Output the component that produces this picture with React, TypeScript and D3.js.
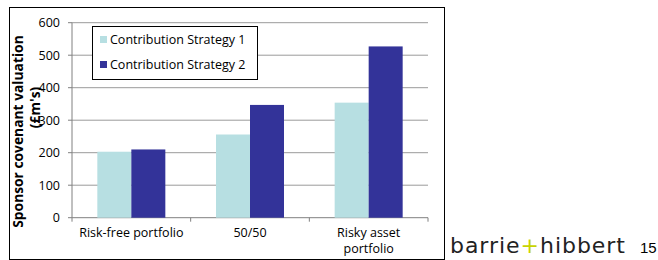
import React from "react";
import * as d3 from "d3";

const categories: string[][] = [["Risk-free portfolio"], ["50/50"], ["Risky asset", "portfolio"]];
const seriesNames = ["Contribution Strategy 1", "Contribution Strategy 2"];
const strategy1 = [203, 256, 354];
const strategy2 = [210, 347, 527];
const yTicks = [0, 100, 200, 300, 400, 500, 600];
const colors = ["#B7DFE2", "#333399"];

export default function App() {
  const W = 658, H = 260;
  const left = 72, right = 428, top = 22.7, bottom = 217.7;
  const x = d3.scaleBand<number>().domain([0, 1, 2]).range([left, right]).paddingInner(0).paddingOuter(0);
  const y = d3.scaleLinear().domain([0, 600]).range([bottom, top]);
  const bw = 34;
  const font = "'Open Sans', sans-serif";
  const series = [strategy1, strategy2];
  return (
    <svg width={W} height={H} style={{ position: "absolute", left: 0, top: 0 }} fontFamily={font}>
      <rect x={0} y={0} width={W} height={H} fill="#fff" />
      <rect x={9.5} y={7.5} width={435} height={252} fill="#fff" stroke="#000" strokeWidth={1} />
      {yTicks.map((t) => (
        <g key={t}>
          {t > 0 && <line x1={left} x2={right} y1={y(t)} y2={y(t)} stroke="#9a9a9a" strokeWidth={1} />}
          <line x1={left - 4} x2={left} y1={y(t)} y2={y(t)} stroke="#808080" />
          <text x={left - 12} y={y(t)} dy="0.35em" textAnchor="end" fontSize={12.5} fill="#000">{t}</text>
        </g>
      ))}
      <line x1={left} x2={left} y1={top} y2={bottom} stroke="#808080" />
      <line x1={left} x2={right} y1={bottom} y2={bottom} stroke="#808080" />
      {[0, 1, 2, 3].map((i) => {
        const xx = left + (i * (right - left)) / 3;
        return <line key={i} x1={xx} x2={xx} y1={bottom} y2={bottom + 4} stroke="#808080" />;
      })}
      {categories.map((c, i) => {
        const cx = (x(i) as number) + x.bandwidth() / 2;
        return (
          <g key={i}>
            {series.map((s, j) => (
              <rect key={j} x={cx - bw + j * bw} y={y(s[i])} width={bw} height={bottom - y(s[i])} fill={colors[j]} />
            ))}
            {c.map((line, k) => (
              <text key={k} x={cx} y={237 + k * 16} textAnchor="middle" fontSize={12.5}>{line}</text>
            ))}
          </g>
        );
      })}
      <text transform="translate(23,131.5) rotate(-90)" textAnchor="middle" fontSize={13.8} fontWeight="bold">Sponsor covenant valuation</text>
      <text transform="translate(40,107.5) rotate(-90)" textAnchor="middle" fontSize={13.8} fontWeight="bold">(£m's)</text>
      <rect x={92.5} y={26.5} width={165} height={53} fill="#fff" stroke="#000" />
      {seriesNames.map((n, j) => (
        <g key={n}>
          <rect x={100} y={36 + j * 25} width={7} height={7} fill={colors[j]} />
          <text x={110} y={39.5 + j * 25} dy="0.35em" fontSize={12.5}>{n}</text>
        </g>
      ))}
      <text x={450} y={253} fontSize={22} textLength={175} lengthAdjust="spacing" fontFamily="'DejaVu Sans', sans-serif" fill="#222">
        barrie<tspan fill="#C8D400">+</tspan>hibbert
      </text>
      <text x={640} y={253} fontSize={15} fontFamily="'Liberation Sans', Arial, sans-serif" fill="#000">15</text>
    </svg>
  );
}
